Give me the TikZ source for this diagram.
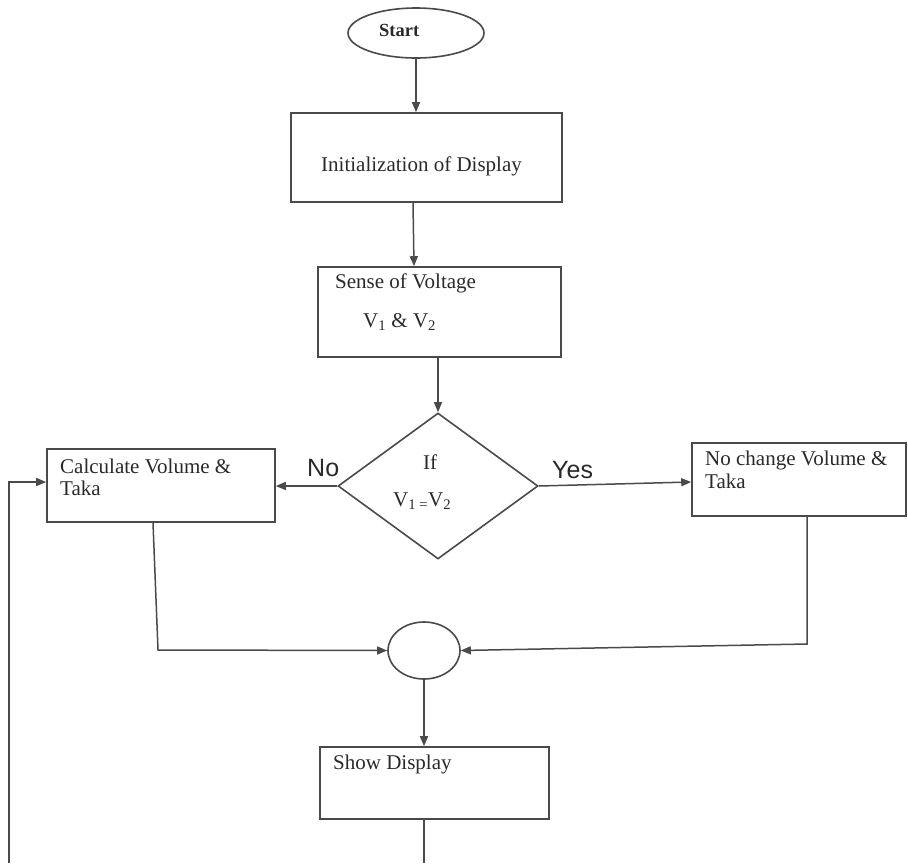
\documentclass[tikz,border=0pt]{standalone}
\usepackage{fontspec}
\setmainfont{Liberation Serif}
\newfontfamily\labfont{Liberation Sans}
\usetikzlibrary{shapes.geometric,arrows.meta}
\definecolor{lncol}{HTML}{4A4A4A}
\definecolor{txcol}{HTML}{2A2A2A}
\begin{document}
\begin{tikzpicture}[x=1pt,y=-1pt,
  box/.style={draw=lncol, line width=1.6pt, rectangle, inner sep=0pt},
  arr/.style={draw=lncol, line width=1.5pt, -{Triangle[length=10pt,width=8pt]}},
  wire/.style={draw=lncol, line width=1.5pt},
  txt/.style={inner sep=0pt, text=txcol, font=\fontsize{21}{23}\selectfont, anchor=base west},
  yn/.style={inner sep=0pt, text=txcol, font=\labfont\fontsize{25}{28}\selectfont, anchor=base west}]
\useasboundingbox[fill=white] (0,0) rectangle (908,863);

% shapes
\node[box, ellipse, minimum width=136pt, minimum height=50pt] (start) at (416,33) {};
\node[box, minimum width=271pt, minimum height=89pt] (init) at (426.5,157.5) {};
\node[box, minimum width=243pt, minimum height=90pt] (sense) at (439.5,312) {};
\node[box, diamond, minimum width=200pt, minimum height=146pt] (dec) at (438,486) {};
\node[box, minimum width=228pt, minimum height=73pt] (calc) at (161,485.5) {};
\node[box, minimum width=214pt, minimum height=73pt] (nochg) at (799,479.5) {};
\node[box, ellipse, minimum width=72pt, minimum height=57pt] (join) at (424,650.5) {};
\node[box, minimum width=229pt, minimum height=72pt] (show) at (434.5,783) {};

% texts
\node[txt, font=\fontsize{18.5}{20}\selectfont\bfseries] (tstart) at (379,36) {Start};
\node[txt] (tinit) at (321,171) {Initialization of Display};
\node[txt] (tsense) at (335,288) {Sense of Voltage};
\node[txt] (tv) at (363,327) {V\textsubscript{1} \& V\textsubscript{2}};
\node[txt] (tif) at (423,469) {If};
\node[txt] (teq) at (393,506) {V\textsubscript{1 =}V\textsubscript{2}};
\node[txt] (tcalc1) at (60,473) {Calculate Volume \&};
\node[txt] (tcalc2) at (60,495) {Taka};
\node[txt] (tno1) at (705,465) {No change Volume \&};
\node[txt] (tno2) at (705,488) {Taka};
\node[txt] (tshow) at (333,769) {Show Display};
\node[yn] (lno) at (307,476) {No};
\node[yn] (lyes) at (552,478) {Yes};

% free ends and bends
\coordinate (lc) at (158,650);
\coordinate (rc) at (807,644);
\coordinate (sdB) at (424,863);
\coordinate (fbB) at (9,863);

% connectors
\draw[arr] (start.south) -- (start.south |- init.north);
\draw[arr] ([xshift=-13.5pt]init.south) -- ([xshift=-25.5pt]sense.north);
\draw[arr] (sense.south -| dec.north) -- (dec.north);
\draw[arr] (dec.west) -- (dec.west -| calc.east);
\draw[arr] (dec.east) -- ([yshift=-2.5pt]nochg.west);
\draw[arr] ([xshift=-8pt]calc.south) -- (lc) -- (join.west);
\draw[arr] ([xshift=8pt]nochg.south) -- (rc) -- (join.east);
\draw[arr] (join.south) -- (join.south |- show.north);
\draw[wire] (show.south -| sdB) -- (sdB);
\draw[arr] (fbB) |- ([yshift=3.5pt]calc.west);
\end{tikzpicture}
\end{document}
